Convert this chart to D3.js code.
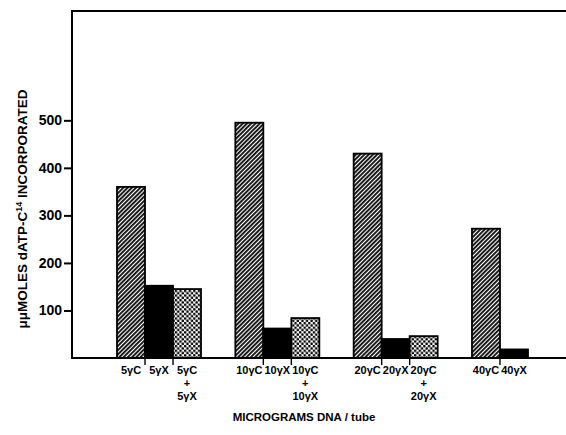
<!DOCTYPE html>
<html><head><meta charset="utf-8">
<script src="https://cdn.jsdelivr.net/npm/d3@7"></script>
<style>body{margin:0;background:#fff}svg{display:block}</style>
</head><body>
<script>
// Data
const groups = ["5", "10", "20", "40"];
const treatments = ["C", "X", "CX"];
const valuesC  = [360, 495, 430, 272];
const valuesX  = [152, 62, 40, 18];
const valuesCX = [145, 84, 46, null];
const yTicks = [100, 200, 300, 400, 500];
const yTitle = "\u03BC\u03BCMOLES dATP-C";
const yTitleSup = "14";
const yTitleEnd = " INCORPORATED";
const xTitle = "MICROGRAMS DNA / tube";

const W = 566, H = 435;
const mLeft = 72, mTop = 11, base = 358, mRight = 566;

const svg = d3.select("body").append("svg").attr("width", W).attr("height", H);
const defs = svg.append("defs");
const hatch = defs.append("pattern").attr("id","hatch").attr("patternUnits","userSpaceOnUse")
  .attr("width",3).attr("height",3).attr("patternTransform","rotate(45)");
hatch.append("rect").attr("width",3).attr("height",3).attr("fill","#fff");
hatch.append("rect").attr("width",1.9).attr("height",3).attr("fill","#111");
const dots = defs.append("pattern").attr("id","dots").attr("patternUnits","userSpaceOnUse")
  .attr("width",4.6).attr("height",4.6);
dots.append("rect").attr("width",4.6).attr("height",4.6).attr("fill","#fff");
dots.append("circle").attr("cx",1.15).attr("cy",1.15).attr("r",1.3).attr("fill","#000");
dots.append("circle").attr("cx",3.45).attr("cy",3.45).attr("r",1.3).attr("fill","#000");

const y = d3.scaleLinear().domain([0, 730]).range([base, mTop]);
const x0 = d3.scaleBand().domain(groups).range([117, 556]).paddingInner(0.29).paddingOuter(0);
const x1 = d3.scaleBand().domain(treatments).range([0, x0.bandwidth()]).padding(0);

const fills = {C: "url(#hatch)", X: "#000", CX: "url(#dots)"};
const series = {C: valuesC, X: valuesX, CX: valuesCX};

const data = [];
groups.forEach((g, i) => treatments.forEach(t => {
  const v = series[t][i];
  if (v != null) data.push({g, t, v});
}));

svg.append("g").selectAll("rect").data(data).join("rect")
  .attr("x", d => x0(d.g) + x1(d.t))
  .attr("y", d => y(d.v))
  .attr("width", x1.bandwidth())
  .attr("height", d => base - y(d.v))
  .attr("fill", d => fills[d.t])
  .attr("stroke", "#000").attr("stroke-width", 1.8);

// frame
const frame = svg.append("g").attr("stroke","#000").attr("stroke-width",2).attr("fill","none");
frame.append("path").attr("d", `M${mRight},${mTop}H${mLeft}V${base}H${mRight}`);

// y axis ticks
const yAxis = d3.axisLeft(y).tickValues(yTicks).tickSize(8).tickPadding(2).tickFormat(d3.format("d"));
const ya = svg.append("g").attr("transform", `translate(${mLeft},0)`).call(yAxis);
ya.select(".domain").remove();
ya.selectAll("line").attr("stroke","#000").attr("stroke-width",2);
ya.selectAll("text").attr("font-family","Liberation Sans, Arial, sans-serif")
  .attr("font-weight","bold").attr("font-size",14).attr("fill","#000");

// x tick marks between bars
const sep = [];
groups.forEach((g, i) => treatments.forEach((t, j) => {
  if (j > 0 && series[t][i] != null) sep.push(x0(g) + x1(t));
}));
svg.append("g").selectAll("line").data(sep).join("line")
  .attr("x1", d => d).attr("x2", d => d).attr("y1", base).attr("y2", base + 7)
  .attr("stroke","#000").attr("stroke-width",1.4);

// x labels
const lab = svg.append("g").attr("font-family","Liberation Sans, Arial, sans-serif")
  .attr("font-weight","bold").attr("font-size",11).attr("text-anchor","middle").attr("fill","#000");
data.forEach(d => {
  const cx = x0(d.g) + x1(d.t) + x1.bandwidth() / 2;
  if (d.t === "CX") {
    lab.append("text").attr("x", cx).attr("y", 374).text(d.g + "\u03B3C");
    lab.append("text").attr("x", cx).attr("y", 387).text("+");
    lab.append("text").attr("x", cx).attr("y", 400).text(d.g + "\u03B3X");
  } else {
    lab.append("text").attr("x", cx).attr("y", 374).text(d.g + "\u03B3" + d.t);
  }
});

// x title
svg.append("text").attr("x", 304).attr("y", 421).attr("text-anchor","middle")
  .attr("font-family","Liberation Sans, Arial, sans-serif").attr("font-weight","bold")
  .attr("font-size",11.5).text(xTitle);

// y title
const yt = svg.append("text").attr("transform","translate(27,209) rotate(-90)")
  .attr("text-anchor","middle").attr("font-family","Liberation Sans, Arial, sans-serif")
  .attr("font-weight","bold").attr("font-size",13.5);
yt.append("tspan").text(yTitle);
yt.append("tspan").attr("dy",-5).attr("font-size",9).text(yTitleSup);
yt.append("tspan").attr("dy",5).text(yTitleEnd);
</script>
</body></html>
